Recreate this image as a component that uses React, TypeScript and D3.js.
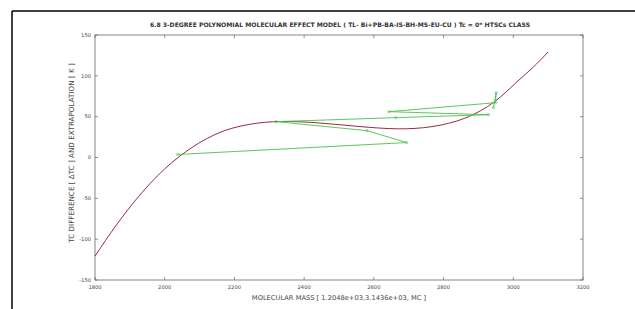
import React from "react";
import * as d3 from "d3";

const title = "6.8 3-DEGREE POLYNOMIAL MOLECULAR EFFECT MODEL ( TL- Bi+PB-BA-IS-BH-MS-EU-CU ) Tc = 0* HTSCs CLASS";
const xLabel = "MOLECULAR MASS [ 1.2048e+03,3.1436e+03, MC ]";
const yLabel = "TC DIFFERENCE [ ΔTC ] AND EXTRAPOLATION [ K ]";

const xTicks = [1800, 2000, 2200, 2400, 2600, 2800, 3000, 3200];
const yTicks = [-150, -100, -50, 0, 50, 100, 150];

// fitted polynomial curve
const curveX = [1800, 1871, 1957, 2043, 2149, 2243, 2329, 2443, 2557, 2671, 2766, 2863, 2949, 3006, 3057, 3100];
const curveY = [-120.7, -75.6, -30.5, 3.7, 31.7, 41.5, 45.1, 42.7, 37.8, 34.1, 36.6, 46.3, 67.1, 91.5, 109.8, 129.3];

// measured data path
const dataX = [2037, 2694, 2580, 2320, 2663, 2929, 2643, 2949, 2951, 2943];
const dataY = [3.7, 18.3, 32.9, 43.9, 48.8, 52.4, 56.1, 67.1, 79.3, 61.0];

export default function App() {
  const L = 95, R = 583, T = 35, B = 280;
  const x = d3.scaleLinear().domain([1800, 3200]).range([L, R]);
  const y = d3.scaleLinear().domain([-150, 150]).range([B, T]);
  const curvePts = curveX.map((v, i) => [v, curveY[i]] as [number, number]);
  const dataPts = dataX.map((v, i) => [v, dataY[i]] as [number, number]);
  const curveLine = d3.line<[number, number]>().x(d => x(d[0])).y(d => y(d[1])).curve(d3.curveBasis);
  const dataLine = d3.line<[number, number]>().x(d => x(d[0])).y(d => y(d[1]));
  const font = "DejaVu Sans, Verdana, sans-serif";
  const axisColor = "#666";
  return (
    <svg width={635} height={309} style={{ position: "absolute", left: 0, top: 0, background: "#fff" }} fontFamily={font}>
      <line x1={12} y1={11} x2={635} y2={11} stroke="#000" strokeWidth={1.5} />
      <line x1={12} y1={11} x2={12} y2={309} stroke="#000" strokeWidth={1.5} />
      <text x={340} y={27} fontSize={6.1} fontWeight="bold" textAnchor="middle" fill="#333">{title}</text>
      <rect x={L} y={T} width={R - L} height={B - T} fill="none" stroke={axisColor} strokeWidth={0.8} />
      {xTicks.map(t => (
        <g key={"x" + t}>
          <line x1={x(t)} x2={x(t)} y1={B} y2={B - 3} stroke={axisColor} strokeWidth={0.7} />
          <line x1={x(t)} x2={x(t)} y1={T} y2={T + 3} stroke={axisColor} strokeWidth={0.7} />
          <text x={x(t)} y={B + 9} fontSize={5.2} textAnchor="middle" fill="#444">{t}</text>
        </g>
      ))}
      {yTicks.map(t => (
        <g key={"y" + t}>
          <line x1={L} x2={L + 3} y1={y(t)} y2={y(t)} stroke={axisColor} strokeWidth={0.7} />
          <line x1={R} x2={R - 3} y1={y(t)} y2={y(t)} stroke={axisColor} strokeWidth={0.7} />
          <text x={L - 4} y={y(t) + 1.8} fontSize={5.2} textAnchor="end" fill="#444">{t}</text>
        </g>
      ))}
      <text x={339} y={300} fontSize={6.7} textAnchor="middle" fill="#444">{xLabel}</text>
      <text transform={`translate(74,153) rotate(-90)`} fontSize={7.2} textAnchor="middle" fill="#444">{yLabel}</text>
      <path d={curveLine(curvePts) || ""} fill="none" stroke="#962a48" strokeWidth={1} />
      <path d={dataLine(dataPts) || ""} fill="none" stroke="#4cc04c" strokeWidth={0.9} />
      {dataPts.map((d, i) => (
        <circle key={i} cx={x(d[0])} cy={y(d[1])} r={1.2} fill="none" stroke="#4cc04c" strokeWidth={0.6} />
      ))}
    </svg>
  );
}
